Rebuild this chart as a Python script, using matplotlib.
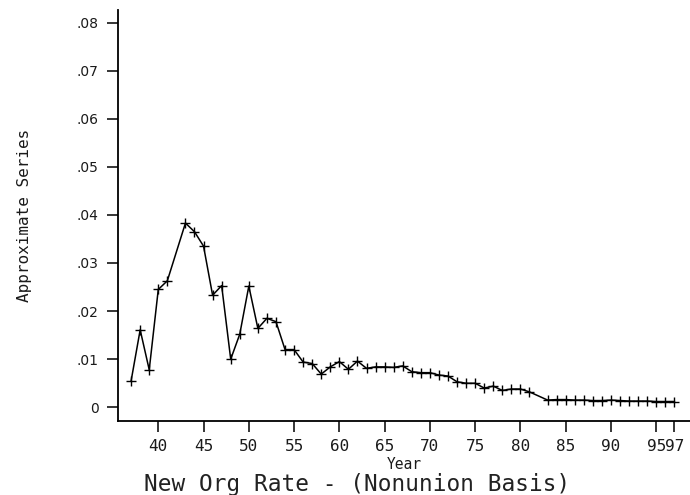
import numpy as np
import matplotlib.pyplot as plt

# yearly new organizing rate on a nonunion basis (1942 and 1982 not reported)
years = [37, 38, 39, 40, 41, 43, 44, 45, 46, 47, 48, 49, 50, 51, 52, 53, 54,
         55, 56, 57, 58, 59, 60, 61, 62, 63, 64, 65, 66, 67, 68, 69, 70, 71,
         72, 73, 74, 75, 76, 77, 78, 79, 80, 81, 83, 84, 85, 86, 87, 88, 89,
         90, 91, 92, 93, 94, 95, 96, 97]
rate = [0.0055, 0.0161, 0.0078, 0.0245, 0.0263, 0.0383, 0.0365, 0.0335,
        0.0233, 0.0253, 0.0100, 0.0152, 0.0252, 0.0164, 0.0185, 0.0178,
        0.0120, 0.0120, 0.0094, 0.0091, 0.0069, 0.0084, 0.0095, 0.0079,
        0.0096, 0.0081, 0.0084, 0.0084, 0.0083, 0.0086, 0.0074, 0.0072,
        0.0072, 0.0067, 0.0065, 0.0053, 0.0050, 0.0050, 0.0040, 0.0044,
        0.0035, 0.0038, 0.0038, 0.0032, 0.0015, 0.0016, 0.0016, 0.0015,
        0.0015, 0.0014, 0.0014, 0.0015, 0.0014, 0.0013, 0.0013, 0.0013,
        0.0012, 0.0012, 0.0012]

xticks = [40, 45, 50, 55, 60, 65, 70, 75, 80, 85, 90, 95, 97]
yticks = [0, 0.01, 0.02, 0.03, 0.04, 0.05, 0.06, 0.07, 0.08]
ytick_labels = ["0", ".01", ".02", ".03", ".04", ".05", ".06", ".07", ".08"]

mono = "DejaVu Sans Mono"
ink = "#1a1a1a"

fig = plt.figure(figsize=(6.9, 4.95), dpi=100)
ax = fig.add_axes([0.171, 0.1495, 0.829, 0.8303])

ax.plot(years, rate, color="black", lw=1.1, marker="+", ms=7, mew=1.0)

ax.set_xlim(35.55, 98.73)
ax.set_ylim(-0.00285, 0.0826)

ax.spines["top"].set_visible(False)
ax.spines["right"].set_visible(False)
for s in ("left", "bottom"):
    ax.spines[s].set_linewidth(1.3)

ax.set_xticks(xticks)
ax.set_xticklabels([str(t) for t in xticks], family=mono, fontsize=11.5,
                   color=ink)
ax.set_yticks(yticks)
ax.set_yticklabels(ytick_labels, fontsize=10, color=ink)
ax.tick_params(axis="x", direction="out", length=8, width=1.1, pad=5)
ax.tick_params(axis="y", direction="out", length=8, width=1.1, pad=6)

ax.set_xlabel("Year", family=mono, fontsize=10.5, labelpad=2, color=ink)
ax.set_ylabel("Approximate Series", family=mono, fontsize=11.5, labelpad=32,
              color=ink)

fig.text(0.209, 0.008, "New Org Rate - (Nonunion Basis)", family=mono,
         fontsize=16.4, ha="left", va="baseline", color="#222222")

fig.savefig("out.png", dpi=100)
